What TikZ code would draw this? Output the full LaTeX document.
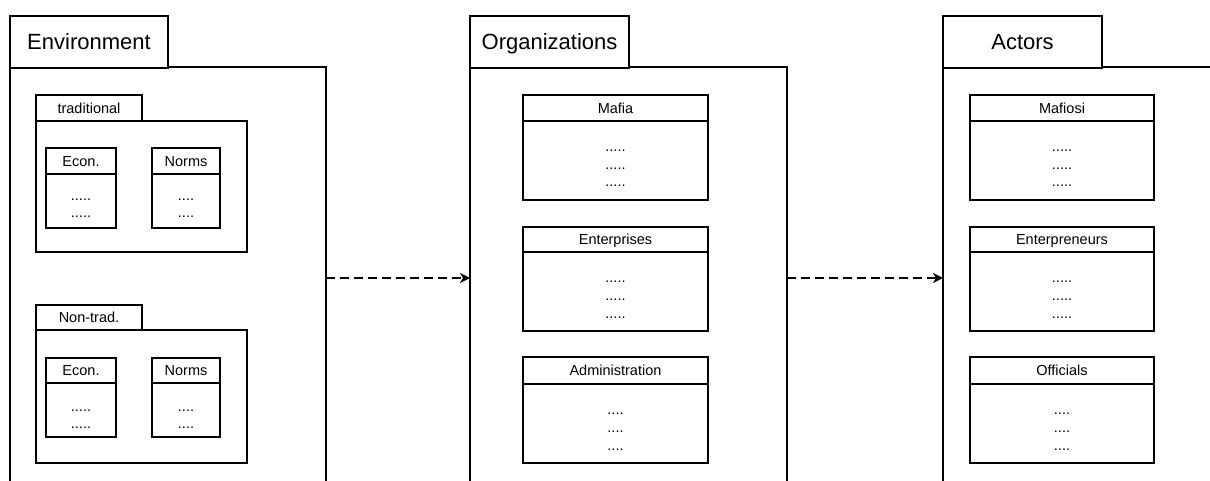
\documentclass[tikz,border=0pt]{standalone}
\usepackage{fontspec}
\setmainfont{Liberation Sans}
\usetikzlibrary{arrows.meta}
\newcommand{\mkclass}[9]{%
  \node[box, minimum width=#4pt, minimum height=#5pt] (#1) at (#2,#3) {};
  \draw[hdr] (#1.west |- 0,#6) -- (#1.east |- 0,#6);
  \node[lbl] (#1t) at (#7,#8) {#9};
}
\begin{document}
\begin{tikzpicture}[x=1pt,y=-1pt,line width=2pt,
  box/.style={draw, inner sep=0pt, outer sep=0pt, anchor=north west, fill=white},
  hdr/.style={line width=1.7pt},
  lbl/.style={font=\fontsize{14.5}{16}\selectfont, text height=10.4pt, text depth=0pt, inner sep=0pt},
  ttl/.style={box, font=\fontsize{22}{24}\selectfont, text height=15.75pt, text depth=0pt},
  sub/.style={box, font=\fontsize{14.5}{16}\selectfont, text height=10.4pt, text depth=0pt},
  dots/.style={font=\fontsize{14.5}{16}\selectfont, inner sep=0pt, anchor=base},
  flow/.style={dash pattern=on 9pt off 5pt, line width=1.8pt, -{Stealth[length=10pt,width=10pt,inset=3pt]}}]
\path[use as bounding box] (0,0) rectangle (1210,481);
\clip (0,0) rectangle (1210,481);
\fill[white] (0,0) rectangle (1210,481);

% ---------- Environment ----------
\node[box, minimum width=316pt, minimum height=500pt] (envmain) at (10,67) {};
\node[ttl, minimum width=158pt, minimum height=52pt] (envtab) at (10,16) {Environment};

\node[box, minimum width=211pt, minimum height=131pt] (tradbox) at (36,121) {};
\node[sub, minimum width=106pt, minimum height=26pt] (tradtab) at (36,95) {traditional};
\mkclass{econA}{46}{148}{70}{80}{174}{81}{161}{Econ.}
\mkclass{normsA}{152}{148}{68}{80}{174}{186}{161}{Norms}
\node[dots] (econAd1) at (81,201) {.....};
\node[dots] (econAd2) at (81,218) {.....};
\node[dots] (normsAd1) at (186,201) {....};
\node[dots] (normsAd2) at (186,218) {....};

\node[box, minimum width=211pt, minimum height=133pt] (nonbox) at (36,330) {};
\node[sub, minimum width=106pt, minimum height=25pt] (nontab) at (36,305) {Non-trad.};
\mkclass{econB}{46}{358}{70}{79}{383}{81}{370.5}{Econ.}
\mkclass{normsB}{152}{358}{68}{79}{383}{186}{370.5}{Norms}
\node[dots] (econBd1) at (81,411) {.....};
\node[dots] (econBd2) at (81,428) {.....};
\node[dots] (normsBd1) at (186,411) {....};
\node[dots] (normsBd2) at (186,428) {....};

% ---------- Organizations ----------
\node[box, minimum width=317pt, minimum height=500pt] (orgmain) at (470,67) {};
\node[ttl, minimum width=159pt, minimum height=52pt] (orgtab) at (470,16) {Organizations};

\mkclass{mafia}{523}{95}{185}{105}{121}{615.5}{108}{Mafia}
\node[dots] (mafiad1) at (615.5,152) {.....};
\node[dots] (mafiad2) at (615.5,170) {.....};
\node[dots] (mafiad3) at (615.5,187) {.....};

\mkclass{ent}{523}{227}{185}{104}{252}{615.5}{239.5}{Enterprises}
\node[dots] (entd1) at (615.5,282) {.....};
\node[dots] (entd2) at (615.5,300) {.....};
\node[dots] (entd3) at (615.5,318) {.....};

\mkclass{adm}{523}{357}{185}{106}{384}{615.5}{370.5}{Administration}
\node[dots] (admd1) at (615.5,414) {....};
\node[dots] (admd2) at (615.5,432) {....};
\node[dots] (admd3) at (615.5,450) {....};

% ---------- Actors ----------
\node[box, minimum width=400pt, minimum height=500pt] (actmain) at (943,67) {};
\node[ttl, minimum width=159pt, minimum height=52pt] (acttab) at (943,16) {Actors};

\mkclass{mafiosi}{970}{95}{184}{105}{121}{1062}{108}{Mafiosi}
\node[dots] (mafiosid1) at (1062,152) {.....};
\node[dots] (mafiosid2) at (1062,170) {.....};
\node[dots] (mafiosid3) at (1062,187) {.....};

\mkclass{entr}{970}{227}{184}{104}{252}{1062}{239.5}{Enterpreneurs}
\node[dots] (entrd1) at (1062,282) {.....};
\node[dots] (entrd2) at (1062,300) {.....};
\node[dots] (entrd3) at (1062,318) {.....};

\mkclass{off}{970}{357}{184}{106}{384}{1062}{370.5}{Officials}
\node[dots] (offd1) at (1062,414) {....};
\node[dots] (offd2) at (1062,432) {....};
\node[dots] (offd3) at (1062,450) {....};

% ---------- connectors ----------
\draw[flow] ([yshift=-211pt]envmain.north east) -- ([yshift=-211pt]orgmain.north west);
\draw[flow] ([yshift=-211pt]orgmain.north east) -- ([yshift=-211pt]actmain.north west);
\end{tikzpicture}
\end{document}
